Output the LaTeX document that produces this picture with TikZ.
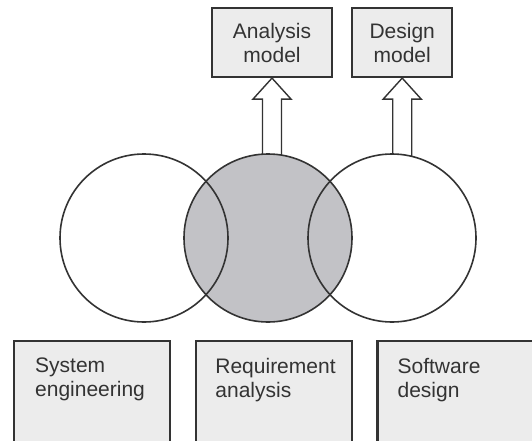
\documentclass[tikz,border=0pt]{standalone}
\usepackage{fontspec}
\setmainfont{Liberation Sans}
\usetikzlibrary{positioning}
\definecolor{boxgray}{HTML}{ECECEC}
\definecolor{lensgray}{HTML}{C2C2C6}
\definecolor{inkgray}{HTML}{333333}
\newcommand{\lbl}{\fontsize{21}{24}\selectfont}

\begin{document}
\begin{tikzpicture}[x=1pt,y=-1pt,
  topbox/.style={draw=inkgray, line width=2.2pt, fill=boxgray, minimum width=#1, minimum height=69pt, inner sep=0pt, align=center, text=inkgray, font=\lbl},
  lowbox/.style={draw=inkgray, line width=2.2pt, fill=boxgray, minimum width=156pt, minimum height=130pt, inner sep=0pt, anchor=north west},
  lowtext/.style={inner sep=0pt, align=left, anchor=north west, text=inkgray, font=\lbl},
  ring/.style={circle, minimum size=168pt, inner sep=0pt},
  hollow/.style={draw=inkgray, line width=1.4pt, fill=white, line join=miter}]
\useasboundingbox (0,0) rectangle (532,441);
\clip (0,0) rectangle (532,441);
% models on top
\node[topbox=120pt] (ana) at (272,42.5) {Analysis\\model};
\node[topbox=100pt, right=18pt of ana] (des) {Design\\model};
% hollow arrows up to the models
\draw[hollow] (ana.south) -- ++(19,21) -- ++(-9.5,0) -- ++(0,70) -- ++(-19,0) -- ++(0,-70) -- ++(-9.5,0) -- cycle;
\draw[hollow] (des.south) -- ++(19,21) -- ++(-9.5,0) -- ++(0,70) -- ++(-19,0) -- ++(0,-70) -- ++(-9.5,0) -- cycle;
% the three circles
\node[ring, fill=white] (cse) at (144,238) {};
\node[ring, fill=white] (csd) at (392,238) {};
\node[ring, fill=lensgray] (cra) at (268,238) {};
\foreach \c in {cse,cra,csd}
  \draw[inkgray, line width=1.6pt] (\c.center) circle (84pt);
% activities at the bottom
\node[lowbox] (sys) at (13,340) {};
\node[lowbox, right=24pt of sys] (req) {};
\node[lowbox, right=23pt of req] (sw) {};
\node[lowtext] (systxt) at ([shift={(22,18)}]sys.north west) {System\\engineering};
\node[lowtext] (reqtxt) at ([shift={(20,18)}]req.north west) {Requirement\\analysis};
\node[lowtext] (swtxt) at ([shift={(21,18)}]sw.north west) {Software\\design};
\end{tikzpicture}
\end{document}
